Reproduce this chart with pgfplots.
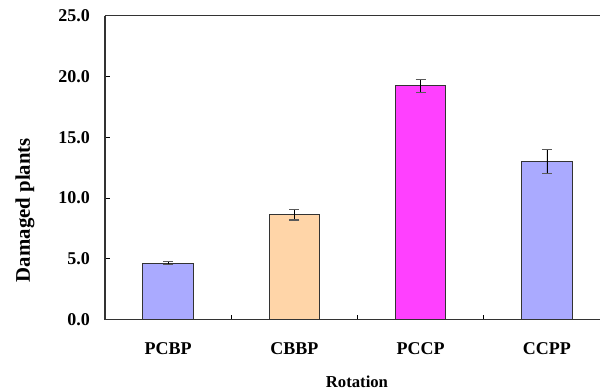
\documentclass[border=0pt]{standalone}
\usepackage{pgfplots}
\pgfplotsset{compat=1.18}
\usepackage{fontspec}
\setmainfont{Liberation Serif}
\definecolor{lav}{HTML}{AAAAFF}
\definecolor{peach}{HTML}{FFD5A8}
\definecolor{mag}{HTML}{FF40FF}
\definecolor{edge}{HTML}{333333}
\pgfplotsset{mybar/.style={ybar, bar width=50.5bp, bar shift=0pt, draw=edge, line width=1bp,
  error bars/.cd, y dir=both, y explicit,
  error bar style={black, line width=0.9bp},
  error mark options={rotate=90, mark size=5bp, line width=1.2bp, draw=black!65}}}
\begin{document}
\begin{tikzpicture}
\begin{axis}[name=ax, scale only axis, width=495bp, height=303.8bp,
  xmin=-0.5, xmax=3.42, ymin=0, ymax=25,
  axis x line*=box, axis y line*=left,
  axis line style={line width=1.2bp, black!80},
  xtick pos=left,
  tick align=inside, major tick length=5bp,
  tick style={black, line width=0.9bp},
  xtick={0.5,1.5,2.5}, xticklabels={},
  extra x ticks={0,1,2,3},
  extra x tick labels={PCBP,CBBP,PCCP,CCPP},
  extra x tick style={major tick length=0pt, tick label style={anchor=center, yshift=-29.5bp}},
  ytick={0,5,10,15,20,25},
  /pgf/number format/assume math mode=true,
  yticklabel style={anchor=east, inner sep=0pt, xshift=-15bp,
    /pgf/number format/fixed, /pgf/number format/fixed zerofill, /pgf/number format/precision=1},
  tick label style={font=\bfseries\fontsize{18bp}{20bp}\selectfont},
  xlabel={Rotation},
  xlabel style={font=\bfseries\fontsize{16.7bp}{18bp}\selectfont, at={(axis description cs:0.509,0)}, anchor=center, yshift=-62.5bp},
  ylabel={Damaged plants},
  ylabel style={font=\bfseries\fontsize{20.8bp}{22bp}\selectfont, at={(axis description cs:0,0.36)}, anchor=center, yshift=80bp},
]
\addplot[fill=lav, mybar] coordinates {(0,4.63) +- (0,0.13)};
\addplot[fill=peach, mybar] coordinates {(1,8.60) +- (0,0.42)};
\addplot[fill=mag, mybar] coordinates {(2,19.24) +- (0,0.53)};
\addplot[fill=lav, mybar] coordinates {(3,12.99) +- (0,0.99)};
\end{axis}
\pgfresetboundingbox
\path[use as bounding box] ([shift={(-105bp,-72.5bp)}]ax.south west) rectangle ([shift={(0bp,15.7bp)}]ax.north east);
\end{tikzpicture}
\end{document}
